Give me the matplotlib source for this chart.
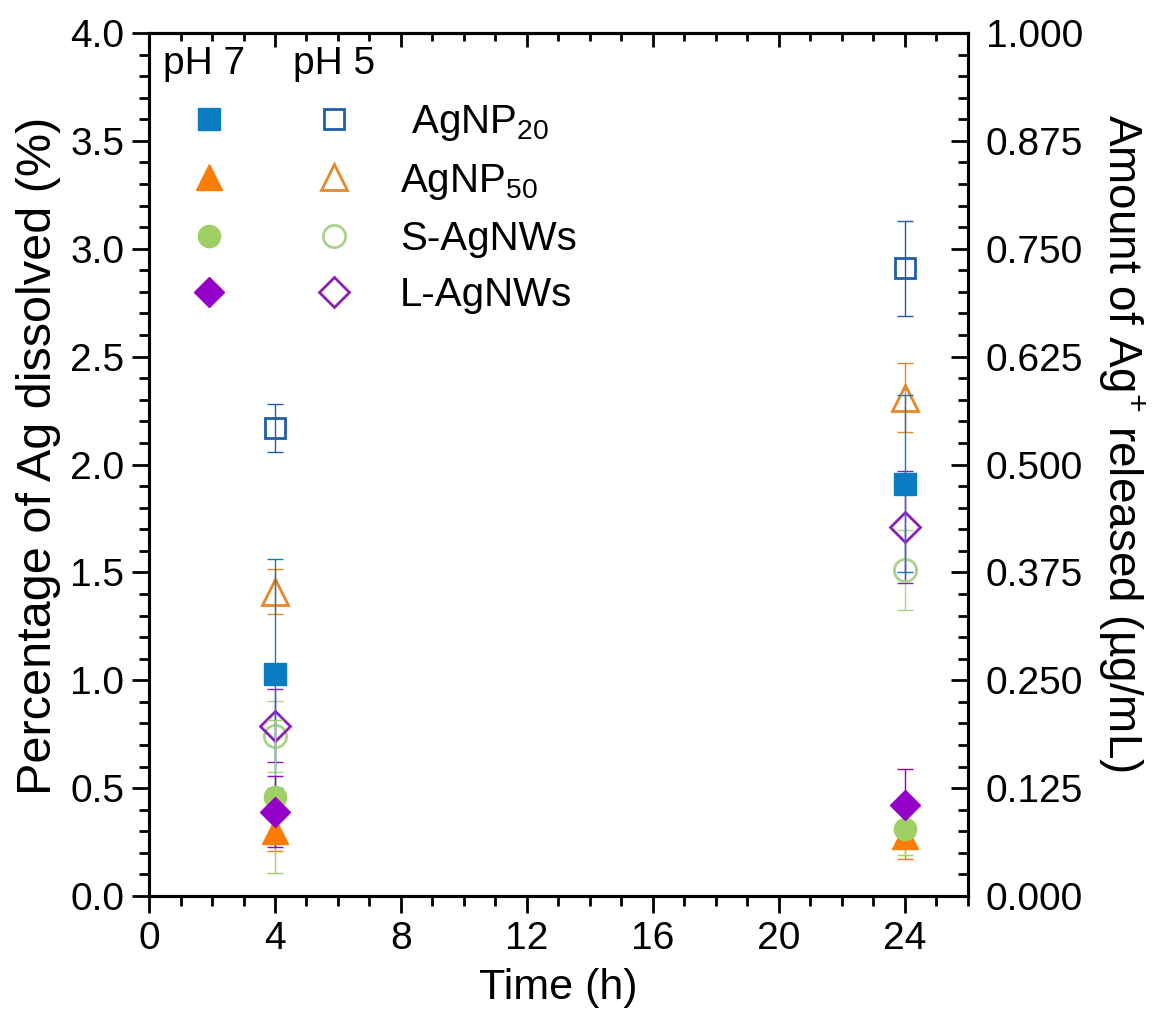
import numpy as np
import matplotlib
matplotlib.use("Agg")
import matplotlib.pyplot as plt
from matplotlib.ticker import MultipleLocator, FormatStrFormatter
from matplotlib.legend_handler import HandlerTuple

plt.rcParams['font.family'] = ['Liberation Sans', 'DejaVu Sans']
plt.rcParams['mathtext.fontset'] = 'custom'
plt.rcParams['mathtext.rm'] = 'Liberation Sans'
plt.rcParams['mathtext.it'] = 'Liberation Sans:italic'

# time points (h)
times = [4, 24]

# pH 7 means / errors (% Ag dissolved)
agnp20_ph7 = [1.03, 1.91]
agnp20_ph7_err = [0.53, 0.41]
agnp50_ph7 = [0.30, 0.28]
agnp50_ph7_err = [0.09, 0.11]
sagnw_ph7 = [0.46, 0.31]
sagnw_ph7_err = [0.355, 0.12]
lagnw_ph7 = [0.39, 0.42]
lagnw_ph7_err = [0.165, 0.17]

# pH 5 means / errors
agnp20_ph5 = [2.17, 2.91]
agnp20_ph5_err = [0.11, 0.22]
agnp50_ph5 = [1.41, 2.31]
agnp50_ph5_err = [0.105, 0.16]
sagnw_ph5 = [0.74, 1.51]
sagnw_ph5_err = [0.165, 0.185]
lagnw_ph5 = [0.79, 1.71]
lagnw_ph5_err = [0.17, 0.26]

labels = [' AgNP$_{20}$', 'AgNP$_{50}$', 'S-AgNWs', 'L-AgNWs']

fig = plt.figure(figsize=(11.7, 10.18), dpi=100)
ax = fig.add_axes([0.1274, 0.1198, 0.6996, 0.8478])

# (means, errors, marker, size, color)
ph7 = [
    (agnp20_ph7, agnp20_ph7_err, 's', 15.5, '#0a7cc1'),
    (agnp50_ph7, agnp50_ph7_err, '^', 19, '#fb7d07'),
    (sagnw_ph7, sagnw_ph7_err, 'o', 16, '#9fd066'),
    (lagnw_ph7, lagnw_ph7_err, 'D', 15, '#9400c8'),
]
ph5 = [
    (agnp20_ph5, agnp20_ph5_err, 's', 15, '#1f5fa5'),
    (agnp50_ph5, agnp50_ph5_err, '^', 19, '#e8862a'),
    (sagnw_ph5, sagnw_ph5_err, 'o', 16, '#a9d38a'),
    (lagnw_ph5, lagnw_ph5_err, 'D', 15, '#8b1fb8'),
]

# open markers (pH 5) first, filled (pH 7) on top
open_h = []
for y, e, m, ms, c in ph5:
    ax.errorbar(times, y, yerr=e, fmt='none', ecolor=c, elinewidth=1.0,
                capsize=5.5, capthick=1.0, zorder=2)
    h, = ax.plot(times, y, linestyle='none', marker=m, markersize=ms,
                 mfc='none', mec=c, mew=2.0, zorder=3)
    open_h.append(h)
filled_h = []
for y, e, m, ms, c in ph7:
    ax.errorbar(times, y, yerr=e, fmt='none', ecolor=c, elinewidth=1.0,
                capsize=5.5, capthick=1.0, zorder=4)
    h, = ax.plot(times, y, linestyle='none', marker=m, markersize=ms,
                 color=c, mec=c, zorder=5)
    filled_h.append(h)

ax.set_xlim(0, 26)
ax.set_ylim(0, 4.0)
ax.xaxis.set_major_locator(MultipleLocator(4))
ax.xaxis.set_minor_locator(MultipleLocator(1))
ax.yaxis.set_major_locator(MultipleLocator(0.5))
ax.yaxis.set_minor_locator(MultipleLocator(0.1))
ax.yaxis.set_major_formatter(FormatStrFormatter('%.1f'))
ax.tick_params(which='major', direction='out', length=12, width=2, labelsize=28, pad=6)
ax.tick_params(which='minor', direction='out', length=7, width=2)
for s in ax.spines.values():
    s.set_linewidth(2.2)

# top spine: ticks pointing inward, no labels
top = ax.secondary_xaxis('top')
top.xaxis.set_major_locator(MultipleLocator(4))
top.xaxis.set_minor_locator(MultipleLocator(1))
top.tick_params(which='major', direction='in', length=10, width=2, labeltop=False)
top.tick_params(which='minor', direction='in', length=6, width=2)
top.spines['top'].set_linewidth(2.2)

# right axis: amount of Ag+ released
ax2 = ax.twinx()
ax2.set_ylim(0, 1.0)
ax2.yaxis.set_major_locator(MultipleLocator(0.125))
ax2.yaxis.set_minor_locator(MultipleLocator(0.025))
ax2.yaxis.set_major_formatter(FormatStrFormatter('%.3f'))
ax2.tick_params(which='major', direction='in', length=12, width=2, labelsize=28, pad=13)
ax2.tick_params(which='minor', direction='in', length=7, width=2)
for s in ax2.spines.values():
    s.set_linewidth(2.2)

ax.set_xlabel('Time (h)', fontsize=31, labelpad=8)
ax.set_ylabel('Percentage of Ag dissolved (%)', fontsize=35, labelpad=6)
ax.yaxis.set_label_coords(-0.108, 0.51)
ax2.set_ylabel('Amount of Ag$^{+}$ released (\u00b5g/mL)', fontsize=33,
               rotation=270, labelpad=46)
ax2.yaxis.set_label_coords(1.219, 0.525)

leg = ax.legend([tuple([f, o]) for f, o in zip(filled_h, open_h)], labels,
                handler_map={tuple: HandlerTuple(ndivide=None, pad=0)},
                loc='upper left', bbox_to_anchor=(-0.023, 0.937), frameon=False,
                fontsize=29, handlelength=6.2, handletextpad=0.1,
                labelspacing=0.45, borderaxespad=0)
ax.text(0.017, 0.985, 'pH 7', transform=ax.transAxes, fontsize=28, va='top')
ax.text(0.176, 0.985, 'pH 5', transform=ax.transAxes, fontsize=28, va='top')

fig.savefig('out.png', dpi=100)
